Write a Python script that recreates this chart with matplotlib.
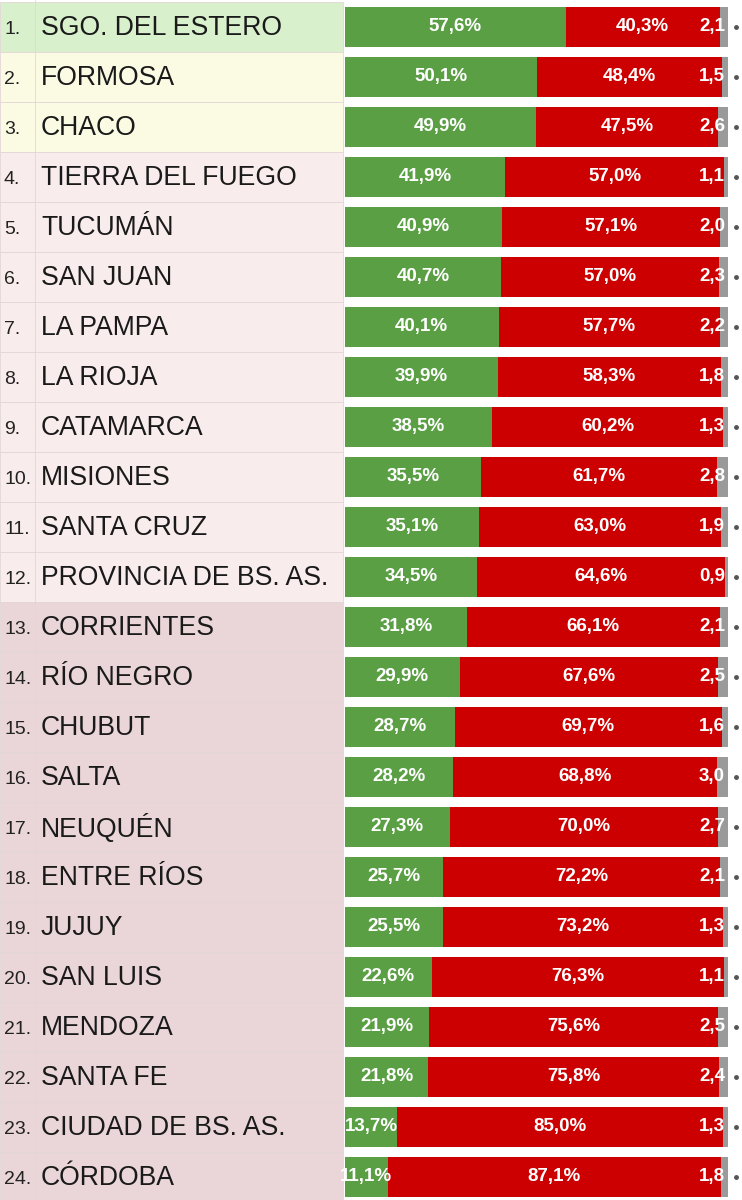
import matplotlib
matplotlib.use("Agg")
import matplotlib.pyplot as plt
from matplotlib.patches import Rectangle

names = ["SGO. DEL ESTERO","FORMOSA","CHACO","TIERRA DEL FUEGO","TUCUMÁN","SAN JUAN","LA PAMPA",
         "LA RIOJA","CATAMARCA","MISIONES","SANTA CRUZ","PROVINCIA DE BS. AS.","CORRIENTES",
         "RÍO NEGRO","CHUBUT","SALTA","NEUQUÉN","ENTRE RÍOS","JUJUY","SAN LUIS","MENDOZA",
         "SANTA FE","CIUDAD DE BS. AS.","CÓRDOBA"]
green = [57.6,50.1,49.9,41.9,40.9,40.7,40.1,39.9,38.5,35.5,35.1,34.5,31.8,29.9,28.7,28.2,27.3,25.7,25.5,22.6,21.9,21.8,13.7,11.1]
red = [40.3,48.4,47.5,57.0,57.1,57.0,57.7,58.3,60.2,61.7,63.0,64.6,66.1,67.6,69.7,68.8,70.0,72.2,73.2,76.3,75.6,75.8,85.0,87.1]
other = [2.1,1.5,2.6,1.1,2.0,2.3,2.2,1.8,1.3,2.8,1.9,0.9,2.1,2.5,1.6,3.0,2.7,2.1,1.3,1.1,2.5,2.4,1.3,1.8]

def fmt(v):
    return f"{v:.1f}".replace(".", ",")

n = len(names)
fig = plt.figure(figsize=(7.42, 12), dpi=100)
fig.patch.set_facecolor("white")
ylim = (n - 0.54, -0.54)

# table
ta = fig.add_axes([0, 0, 345/742, 1])
ta.set_xlim(0, 345); ta.set_ylim(*ylim); ta.axis("off")
def bg(i):
    if i == 0: return "#d8f0cc"
    if i < 3: return "#fbfbe4"
    if i < 12: return "#f9ecec"
    return "#ead6d8"
for i, nm in enumerate(names):
    ta.add_patch(Rectangle((0, i-0.5), 343, 1, facecolor=bg(i), edgecolor="#e2d6d6", lw=0.6))
    ta.text(4, i+0.06, f"{i+1}.", fontsize=14, va="center", ha="left", family="Liberation Sans", color="#222")
    ta.text(41, i+0.02, nm, fontsize=19.2, va="center", ha="left", family="Liberation Sans", color="#1a1a1a")
ta.plot([35, 35], [-0.54, n], color="#e2d6d6", lw=0.6)

# bars
ax = fig.add_axes([345/742, 0, 397/742, 1])
ax.set_xlim(0, 100*397/383); ax.set_ylim(*ylim); ax.axis("off")
h = 0.8
ax.barh(range(n), green, height=h, color="#5b9f45")
ax.barh(range(n), red, left=green, height=h, color="#cc0000")
lefts = [g + r for g, r in zip(green, red)]
ax.barh(range(n), other, left=lefts, height=h, color="#9a9a9a")
clip = Rectangle((0, -1), 100, n+2, transform=ax.transData, visible=False)
ax.add_patch(clip)
for i in range(n):
    ax.text(green[i]/2, i, fmt(green[i]) + "%", ha="center", va="center", color="white", fontsize=13.5, fontweight="bold", family="Liberation Sans")
    ax.text(green[i] + red[i]/2, i, fmt(red[i]) + "%", ha="center", va="center", color="white", fontsize=13.5, fontweight="bold", family="Liberation Sans")
    t = ax.text(92.4, i, fmt(other[i]), ha="left", va="center", color="white", fontsize=13.5, fontweight="bold", family="Liberation Sans")
    t.set_clip_path(clip)
    ax.plot([102], [i], marker="o", ms=2.5, color="#555")
fig.savefig("out.png", dpi=100)
